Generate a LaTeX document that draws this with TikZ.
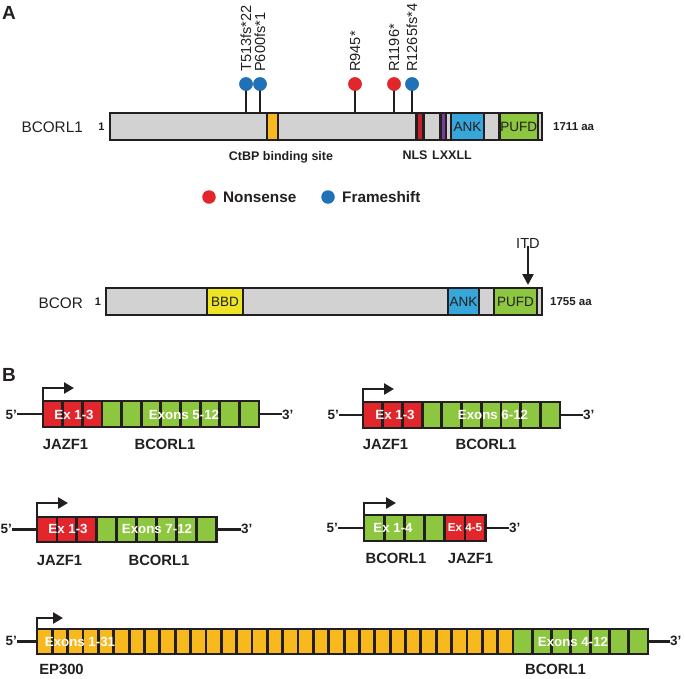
\documentclass[tikz,border=0pt]{standalone}
\usepackage{fontspec}
\setmainfont{Liberation Sans}
\usetikzlibrary{arrows.meta}
\definecolor{dk}{HTML}{231F20}
\definecolor{gry}{HTML}{D2D2D2}
\definecolor{exred}{HTML}{E1272C}
\definecolor{nlsred}{HTML}{C4222A}
\definecolor{dotblue}{HTML}{1F72B8}
\definecolor{ankblue}{HTML}{36A6DB}
\definecolor{grn}{HTML}{8DC63F}
\definecolor{org}{HTML}{F7B91D}
\definecolor{ylw}{HTML}{EDE524}
\definecolor{prp}{HTML}{7B3C97}
\newcommand\fs[1]{\fontsize{#1}{#1}\selectfont}
\newcommand\mkbox[6]{%
  \node[#6, minimum width={(#3)-(#2)}, minimum height={(#5)-(#4)}] (#1) at ({((#2)+(#3))/2},{((#4)+(#5))/2}) {};}
\newcommand\exrow[7]{%
  \foreach \i in {1,...,#6}{%
    \pgfmathsetmacro\xa{#2+(\i-1)*#3}%
    \pgfmathsetmacro\xb{#2+\i*#3}%
    \mkbox{#1\i}{\xa}{\xb}{#4}{#5}{#7}%
  }}
\tikzset{
  boxbase/.style={rectangle, draw=dk, line width=2.8pt, inner sep=0pt, outer sep=0pt},
  barst/.style={boxbase, fill=gry},
  domst/.style={boxbase, line width=2.4pt},
  exst/.style={boxbase, line width=2.8pt},
  lbl/.style={inner sep=0pt, text=dk},
  plbl/.style={lbl, font=\fs{19}\bfseries},
  protlbl/.style={lbl, font=\fs{15.3}},
  onelbl/.style={lbl, font=\fs{11}\bfseries},
  aalbl/.style={lbl, font=\fs{11.5}\bfseries},
  sitelbl/.style={lbl, font=\fs{12.5}\bfseries},
  mutlbl/.style={lbl, font=\fs{14.6}, rotate=90, anchor=west},
  domlbl/.style={lbl, font=\fs{13.5}},
  leglbl/.style={lbl, font=\fs{15.3}\bfseries, anchor=west},
  dotst/.style={circle, inner sep=0pt, minimum size=13.5pt},
  stem/.style={line width=2.6pt, draw=dk},
  genelbl/.style={lbl, font=\fs{14.8}\bfseries},
  endlbl/.style={lbl, font=\fs{13.5}\bfseries},
  exlbl/.style={inner sep=0pt, text=white, font=\fs{13.3}\bfseries},
  exlbls/.style={inner sep=0pt, text=white, font=\fs{11.6}\bfseries},
  conn/.style={line width=2.6pt, draw=dk},
  prom/.style={line width=2.6pt, draw=dk, line join=miter, -{Triangle[length=10pt,width=11pt]}},
}
\begin{document}
\begin{tikzpicture}[x=1pt,y=-1pt]
\useasboundingbox (0,0) rectangle (685,678);
% ---------- Panel A ----------
\node[plbl] (labA) at (9,13) {A};
% BCORL1 protein
\mkbox{bcorl1}{110}{542}{113}{140}{barst}
\mkbox{ctbp}{267}{278}{113}{140}{domst, fill=org}
\mkbox{nls}{416.5}{423.5}{113}{140}{domst, fill=nlsred}
\mkbox{lxxll}{440.5}{446}{113}{140}{domst, fill=prp}
\mkbox{ank1}{451}{484}{113}{140}{domst, fill=ankblue}
\mkbox{pufd1}{499.5}{538}{113}{140}{domst, fill=grn}
\draw[draw=dk, line width=2.8pt] (bcorl1.north west) rectangle (bcorl1.south east);
\node[domlbl] (ank1t) at (ank1) {ANK};
\node[domlbl] (pufd1t) at (pufd1) {PUFD};
\node[protlbl, anchor=east] (n1) at (83,127) {BCORL1};
\node[onelbl] (one1) at (101.5,127) {1};
\node[aalbl, anchor=west] (aa1) at (553,127) {1711 aa};
\node[sitelbl] (ctbpt) at (281,157) {CtBP binding site};
\node[sitelbl] (nlst) at (415,155) {NLS};
\node[sitelbl] (lxt) at (452,155) {LXXLL};
% mutations
\node[dotst, fill=dotblue] (m1) at (246,84) {};
\node[dotst, fill=dotblue] (m2) at (260,84) {};
\node[dotst, fill=exred] (m3) at (355,84) {};
\node[dotst, fill=exred] (m4) at (394,84) {};
\node[dotst, fill=dotblue] (m5) at (412,84) {};
\foreach \m in {m1,m2,m3,m4,m5}{
  \draw[stem] (\m.center) -- (\m |- bcorl1.north);
}
\node[dotst, fill=dotblue] at (m1) {};
\node[dotst, fill=dotblue] at (m2) {};
\node[dotst, fill=exred] at (m3) {};
\node[dotst, fill=exred] at (m4) {};
\node[dotst, fill=dotblue] at (m5) {};
\node[mutlbl] (t1) at (246,72) {T513fs*22};
\node[mutlbl] (t2) at (260,72) {P600fs*1};
\node[mutlbl] (t3) at (355,72) {R945*};
\node[mutlbl] (t4) at (394,72) {R1196*};
\node[mutlbl] (t5) at (412,72) {R1265fs*4};
% legend
\node[dotst, fill=exred] (lg1) at (209,197) {};
\node[leglbl] (lg1t) at (223,197) {Nonsense};
\node[dotst, fill=dotblue] (lg2) at (328,197) {};
\node[leglbl] (lg2t) at (342,197) {Frameshift};
% BCOR protein
\mkbox{bcor}{106}{542}{288}{315}{barst}
\mkbox{bbd}{207}{243}{288}{315}{domst, fill=ylw}
\mkbox{ank2}{448}{479}{288}{315}{domst, fill=ankblue}
\mkbox{pufd2}{494}{537}{288}{315}{domst, fill=grn}
\draw[draw=dk, line width=2.8pt] (bcor.north west) rectangle (bcor.south east);
\node[domlbl] (bbdt) at (bbd) {BBD};
\node[domlbl] (ank2t) at (ank2) {ANK};
\node[domlbl] (pufd2t) at (pufd2) {PUFD};
\node[protlbl, anchor=east] (n2) at (83,303) {BCOR};
\node[onelbl] (one2) at (98,302) {1};
\node[aalbl, anchor=west] (aa2) at (550,302) {1755 aa};
\node[lbl, font=\fs{14.6}] (itd) at (528,243) {ITD};
\coordinate (itdtip) at (528,285);
\draw[line width=2.4pt, draw=dk, -{Triangle[length=11pt,width=11pt]}] (itd.south) ++(0,-2) -- (itdtip);
% ---------- Panel B ----------
\node[plbl] (labB) at (9,375) {B};
% Fusion 1
\exrow{fa}{43}{19.64}{401}{427}{3}{exst, fill=exred}
\exrow{fb}{101.92}{19.64}{401}{427}{8}{exst, fill=grn}
\node[endlbl, anchor=east] (f1five) at (17,415) {5’};
\node[endlbl, anchor=west] (f1three) at (282,415) {3’};
\draw[conn] (f1five.east |- fa1.west) -- (fa1.west);
\draw[conn] (fb8.east) -- (f1three.west |- fb8.east);
\coordinate (p1) at (74,388);
\draw[prom] (fa1.north west) |- (p1);
\node[exlbl] at (74,414.5) {Ex 1-3};
\node[exlbl] at (184,414.5) {Exons 5-12};
\node[genelbl] (g1a) at (65.5,444) {JAZF1};
\node[genelbl] (g1b) at (165,444) {BCORL1};
% Fusion 2
\exrow{fc}{363}{19.7}{402}{428}{3}{exst, fill=exred}
\exrow{fd}{422.1}{19.7}{402}{428}{7}{exst, fill=grn}
\node[endlbl, anchor=east] (f2five) at (339,415) {5’};
\node[endlbl, anchor=west] (f2three) at (583,415) {3’};
\draw[conn] (f2five.east |- fc1.west) -- (fc1.west);
\draw[conn] (fd7.east) -- (f2three.west |- fd7.east);
\coordinate (p2) at (394,389);
\draw[prom] (fc1.north west) |- (p2);
\node[exlbl] at (395,415) {Ex 1-3};
\node[exlbl] at (493,415) {Exons 6-12};
\node[genelbl] (g2a) at (385.5,444) {JAZF1};
\node[genelbl] (g2b) at (486,444) {BCORL1};
% Fusion 3
\exrow{fe}{37}{19.9}{517}{542}{3}{exst, fill=exred}
\exrow{ff}{96.7}{19.9}{517}{542}{6}{exst, fill=grn}
\node[endlbl, anchor=east] (f3five) at (12,529) {5’};
\node[endlbl, anchor=west] (f3three) at (241,529) {3’};
\draw[conn] (f3five.east |- fe1.west) -- (fe1.west);
\draw[conn] (ff6.east) -- (f3three.west |- ff6.east);
\coordinate (p3) at (68,503);
\draw[prom] (fe1.north west) |- (p3);
\node[exlbl] at (68,529) {Ex 1-3};
\node[exlbl] at (157,529) {Exons 7-12};
\node[genelbl] (g3a) at (59.5,560) {JAZF1};
\node[genelbl] (g3b) at (159,560) {BCORL1};
% Fusion 4
\exrow{fg}{364}{20.2}{515}{541}{4}{exst, fill=grn}
\exrow{fh}{444.8}{20.2}{515}{541}{2}{exst, fill=exred}
\node[endlbl, anchor=east] (f4five) at (338,528) {5’};
\node[endlbl, anchor=west] (f4three) at (509,528) {3’};
\draw[conn] (f4five.east |- fg1.west) -- (fg1.west);
\draw[conn] (fh2.east) -- (f4three.west |- fh2.east);
\coordinate (p4) at (396,503);
\draw[prom] (fg1.north west) |- (p4);
\node[exlbl] at (393,528) {Ex 1-4};
\node[exlbls] at (465,527.5) {Ex 4-5};
\node[genelbl] (g4a) at (396,558) {BCORL1};
\node[genelbl] (g4b) at (470.5,558) {JAZF1};
% Fusion 5
\exrow{fi}{37}{15.355}{629}{654}{31}{exst, fill=org}
\exrow{fj}{513}{19.29}{629}{654}{7}{exst, fill=grn}
\node[endlbl, anchor=east] (f5five) at (17,641) {5’};
\node[endlbl, anchor=west] (f5three) at (670,641) {3’};
\draw[conn] (f5five.east |- fi1.west) -- (fi1.west);
\draw[conn] (fj7.east) -- (f5three.west |- fj7.east);
\coordinate (p5) at (63,618);
\draw[prom] (fi1.north west) |- (p5);
\node[exlbl] at (80,641.5) {Exons 1-31};
\node[exlbl] at (573,641.5) {Exons 4-12};
\node[genelbl] (g5a) at (61.5,669.5) {EP300};
\node[genelbl] (g5b) at (555.5,669.5) {BCORL1};
\end{tikzpicture}
\end{document}
